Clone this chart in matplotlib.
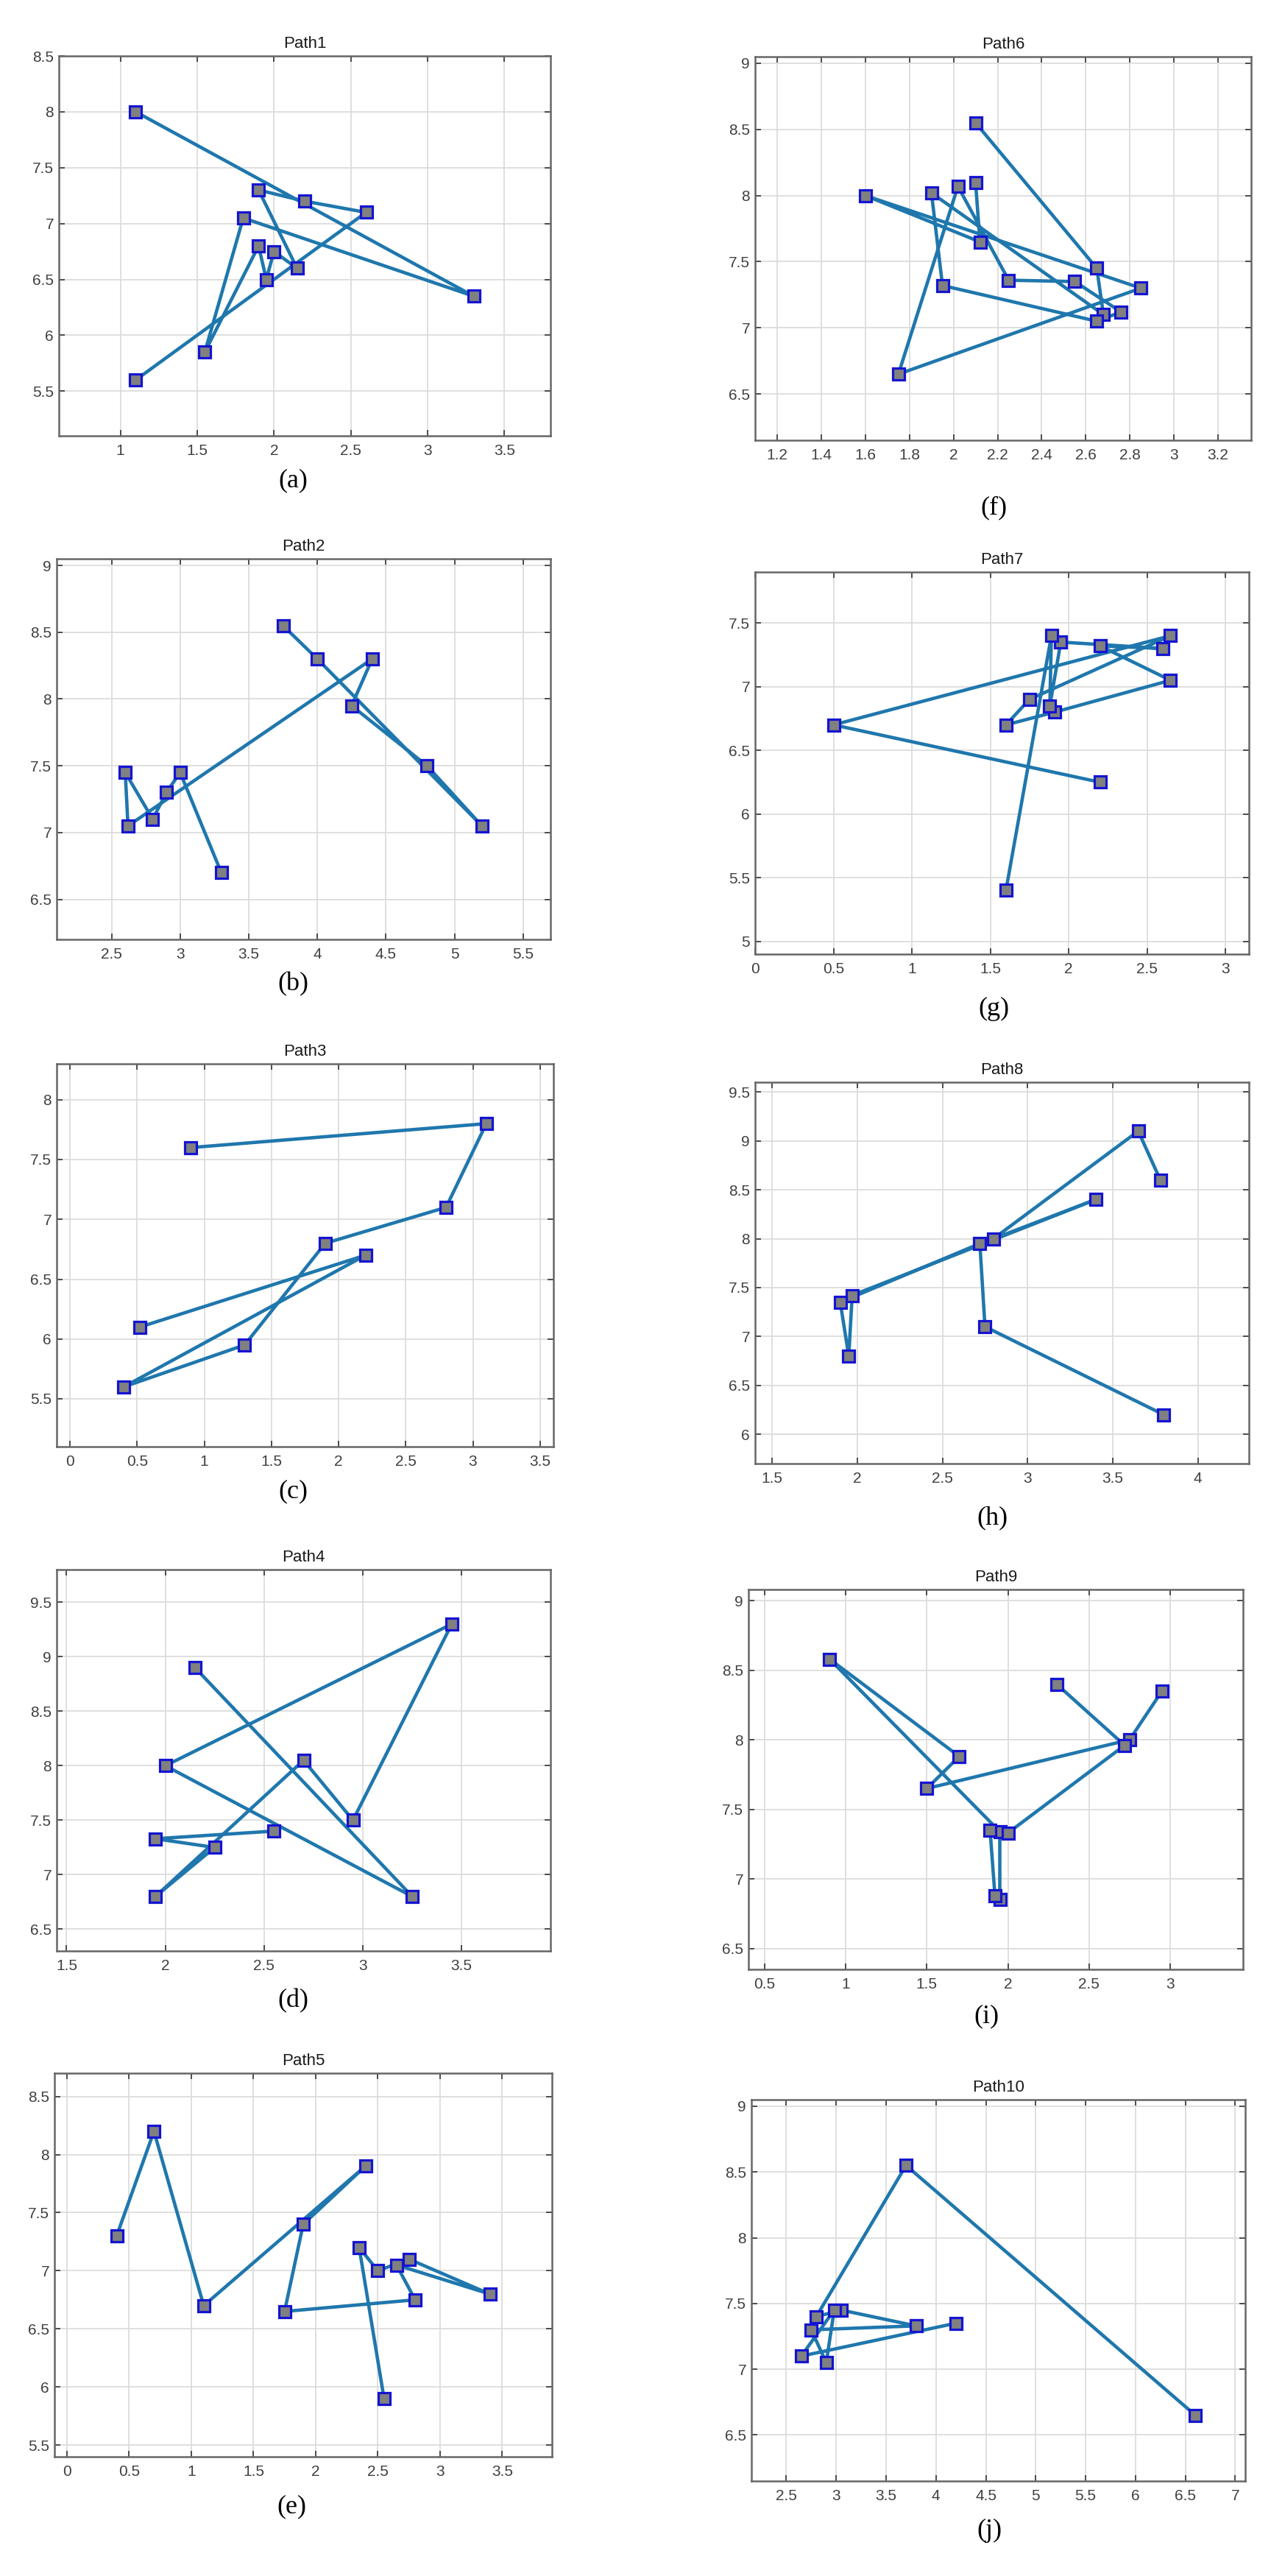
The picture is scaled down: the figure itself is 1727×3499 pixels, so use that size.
import numpy as np
import matplotlib.pyplot as plt
import matplotlib
from matplotlib.ticker import MultipleLocator, FormatStrFormatter

matplotlib.rc('font', family=['Liberation Sans', 'DejaVu Sans'])

# path data (visiting order)
path1_x = [1.1, 3.3, 1.8, 1.55, 1.9, 1.95, 2.0, 2.15, 1.9, 2.2, 2.6, 1.1]
path1_y = [8.0, 6.35, 7.05, 5.85, 6.8, 6.5, 6.75, 6.6, 7.3, 7.2, 7.1, 5.6]

path2_x = [3.75, 4.0, 5.2, 4.8, 4.25, 4.4, 2.62, 2.6, 2.8, 2.9, 3.0, 3.3]
path2_y = [8.55, 8.3, 7.05, 7.5, 7.95, 8.3, 7.05, 7.45, 7.1, 7.3, 7.45, 6.7]

path3_x = [0.9, 3.1, 2.8, 1.9, 1.3, 0.4, 2.2, 0.52]
path3_y = [7.6, 7.8, 7.1, 6.8, 5.95, 5.6, 6.7, 6.1]

path4_x = [2.15, 3.25, 2.0, 3.45, 2.95, 2.7, 1.95, 2.25, 1.95, 2.55]
path4_y = [8.9, 6.8, 8.0, 9.3, 7.5, 8.05, 6.8, 7.25, 7.33, 7.4]

path5_x = [0.4, 0.7, 1.1, 2.4, 1.9, 1.75, 2.8, 2.65, 3.4, 2.75, 2.5, 2.35, 2.55]
path5_y = [7.3, 8.2, 6.7, 7.9, 7.4, 6.65, 6.75, 7.05, 6.8, 7.1, 7.0, 7.2, 5.9]

path6_x = [2.1, 2.65, 2.68, 1.9, 1.95, 2.65, 2.76, 2.55, 2.25, 2.02, 1.75, 2.85, 1.6, 2.12, 2.1]
path6_y = [8.55, 7.45, 7.1, 8.02, 7.32, 7.05, 7.12, 7.35, 7.36, 8.07, 6.65, 7.3, 8.0, 7.65, 8.1]

path7_x = [2.2, 0.5, 2.65, 1.75, 1.6, 1.91, 2.65, 2.2, 2.6, 1.95, 1.88, 1.89, 1.6]
path7_y = [6.25, 6.7, 7.4, 6.9, 6.7, 6.8, 7.05, 7.32, 7.3, 7.35, 6.85, 7.4, 5.4]

path8_x = [3.78, 3.65, 2.8, 3.4, 1.97, 1.95, 1.9, 2.72, 2.75, 3.8]
path8_y = [8.6, 9.1, 8.0, 8.4, 7.42, 6.8, 7.35, 7.95, 7.1, 6.2]

path9_x = [2.95, 2.75, 1.5, 1.7, 0.9, 1.95, 1.95, 1.92, 1.89, 2.0, 2.72, 2.3]
path9_y = [8.35, 8.0, 7.65, 7.88, 8.58, 7.34, 6.85, 6.88, 7.35, 7.33, 7.96, 8.4]

path10_x = [6.6, 3.7, 2.8, 3.05, 3.8, 2.75, 2.9, 2.98, 2.65, 4.2]
path10_y = [6.65, 8.55, 7.4, 7.45, 7.33, 7.3, 7.05, 7.45, 7.1, 7.35]

titles = ['Path1', 'Path2', 'Path3', 'Path4', 'Path5',
          'Path6', 'Path7', 'Path8', 'Path9', 'Path10']
sub_labels = ['(a)', '(b)', '(c)', '(d)', '(e)', '(f)', '(g)', '(h)', '(i)', '(j)']

paths = [(path1_x, path1_y), (path2_x, path2_y), (path3_x, path3_y),
         (path4_x, path4_y), (path5_x, path5_y), (path6_x, path6_y),
         (path7_x, path7_y), (path8_x, path8_y), (path9_x, path9_y),
         (path10_x, path10_y)]

# axis limits and x tick step
lims = [((0.6, 3.8), (5.1, 8.5), 0.5),
        ((2.1, 5.7), (6.2, 9.05), 0.5),
        ((-0.1, 3.6), (5.1, 8.3), 0.5),
        ((1.45, 3.95), (6.3, 9.8), 0.5),
        ((-0.1, 3.9), (5.4, 8.7), 0.5),
        ((1.1, 3.35), (6.15, 9.05), 0.2),
        ((0.0, 3.15), (4.9, 7.9), 0.5),
        ((1.4, 4.3), (5.7, 9.6), 0.5),
        ((0.4, 3.45), (6.35, 9.08), 0.5),
        ((2.15, 7.1), (6.15, 9.05), 0.5)]

W, H = 1727, 3499
# axes boxes in pixels: left, right, top, bottom
boxes = [(80, 748, 76, 592),
         (77, 748, 759, 1276),
         (77, 752, 1445, 1965),
         (77, 748, 2132, 2650),
         (74, 750, 2816, 3337),
         (1026, 1700, 77, 598),
         (1026, 1697, 777, 1296),
         (1026, 1697, 1470, 1988),
         (1017, 1689, 2159, 2675),
         (1021, 1692, 2852, 3370)]
label_pos = [(398, 653), (398, 1337), (398, 2026), (398, 2718), (396, 3405),
             (1350, 690), (1350, 1370), (1348, 2062), (1340, 2739), (1344, 3437)]

fig = plt.figure(figsize=(W / 100, H / 100), dpi=100)
fig.patch.set_facecolor('white')

for i in range(10):
    L, R, T, B = boxes[i]
    ax = fig.add_axes([L / W, 1 - B / H, (R - L) / W, (B - T) / H])
    px, py = paths[i]
    ax.plot(px, py, '-', color='#1f77ad', lw=3.3, zorder=2)
    ax.plot(px, py, 's', ms=12, mfc='#808080', mec='#1414d2', mew=2.3, zorder=3)
    (x0, x1), (y0, y1), xstep = lims[i]
    ax.set_xlim(x0, x1)
    ax.set_ylim(y0, y1)
    ax.xaxis.set_major_locator(MultipleLocator(xstep))
    ax.yaxis.set_major_locator(MultipleLocator(0.5))
    ax.xaxis.set_major_formatter(FormatStrFormatter('%g'))
    ax.yaxis.set_major_formatter(FormatStrFormatter('%g'))
    ax.grid(True, color='#dcdcdc', lw=1.3)
    ax.set_axisbelow(True)
    for s in ax.spines.values():
        s.set_color('#666666')
        s.set_linewidth(1.8)
    ax.tick_params(direction='in', length=6, width=1.3, colors='#404040',
                   labelsize=15, top=True, right=True)
    ax.tick_params(axis='x', pad=8)
    ax.tick_params(axis='y', pad=5)
    ax.set_title(titles[i], fontsize=16, color='#1a1a1a', pad=8)
    lx, ly = label_pos[i]
    fig.text(lx / W, 1 - ly / H, sub_labels[i], ha='center', va='center',
             fontsize=26, family='Liberation Serif')

plt.savefig('out.png', dpi=100)
